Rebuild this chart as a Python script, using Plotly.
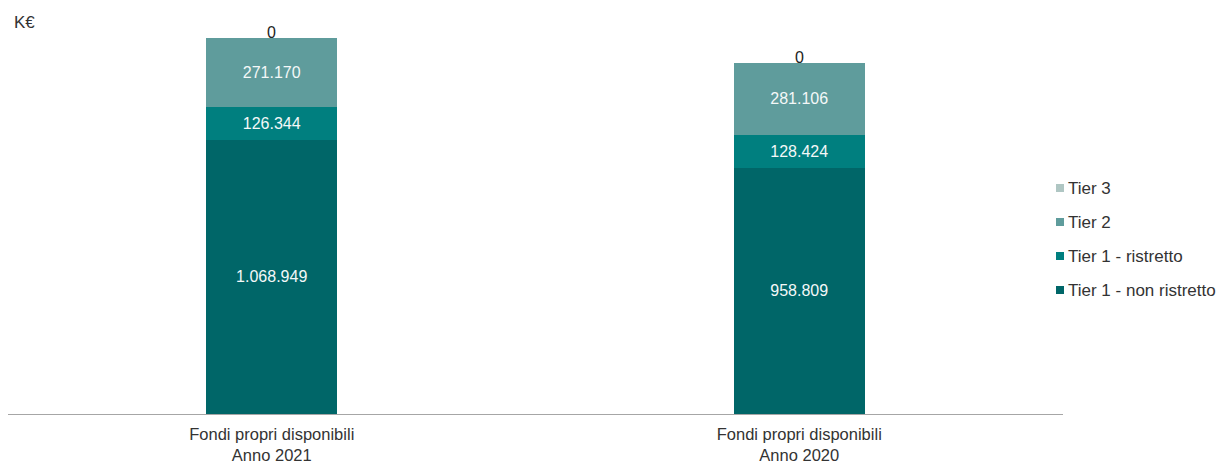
import plotly.graph_objects as go

categories = ["Fondi propri disponibili<br>Anno 2021", "Fondi propri disponibili<br>Anno 2020"]
series_names = ["Tier 1 - non ristretto", "Tier 1 - ristretto", "Tier 2", "Tier 3"]
tier1_non_ristretto = [1068949, 958809]
tier1_ristretto = [126344, 128424]
tier2 = [271170, 281106]
tier3 = [0, 0]
unit_label = "K€"

colors = ["#006668", "#007f7f", "#5f9c9c", "#afc6c3"]
FONT = "Liberation Sans"

def fmt(v):
    return f"{v:,}".replace(",", ".")

W, H = 1223, 458
L, R, T, B = 0, 168, 21, 52
PW, PH = W - L - R, H - T - B

fig = go.Figure()
series = [tier1_non_ristretto, tier1_ristretto, tier2, tier3]
for name, vals, col in zip(series_names, series, colors):
    is_top = name == "Tier 3"
    fig.add_trace(go.Bar(
        x=categories, y=vals, name=name, marker=dict(color=col, line=dict(width=0)),
        text=None if is_top else [fmt(v) for v in vals],
        textposition="none" if is_top else "inside",
        insidetextanchor="middle",
        textfont=dict(color="#f4f8f8", size=16, family=FONT),
        cliponaxis=False,
        hoverinfo="skip",
        showlegend=False,
    ))

annotations = []
# labels for the (zero-height) top segment, sitting on the stack top
totals = [sum(v) for v in zip(*series)]
for cat, tot, v in zip(categories, totals, tier3):
    annotations.append(dict(x=cat, y=tot, xref="x", yref="y", text=fmt(v), showarrow=False,
                            yanchor="middle", yshift=5,
                            font=dict(size=16, color="#222222", family=FONT)))

# legend drawn as squares + labels (top row = Tier 3)
shapes = []
row_px = [180, 214, 248, 282]  # figure-pixel rows for legend items
for i, (name, col) in enumerate(zip(reversed(series_names), reversed(colors))):
    yc = (H - B - row_px[i]) / PH
    x0 = (1048 - L) / PW
    x1 = (1056 - L) / PW
    shapes.append(dict(type="rect", xref="paper", yref="paper",
                       x0=x0, x1=x1, y0=yc - 4 / PH, y1=yc + 4 / PH,
                       fillcolor=col, line=dict(width=0)))
    annotations.append(dict(text=name, xref="paper", yref="paper", x=(1058 - L) / PW, y=yc,
                            xanchor="left", yanchor="middle", showarrow=False,
                            font=dict(size=17, color="#333333", family=FONT)))

annotations.append(dict(text=unit_label, xref="paper", yref="paper", x=4 / PW, y=(H - B - 15) / PH,
                        xanchor="left", yanchor="middle", showarrow=False,
                        font=dict(size=17, color="#333333", family=FONT)))

fig.update_layout(
    barmode="stack",
    bargap=0.752,
    width=W, height=H,
    margin=dict(l=L, r=R, t=T, b=B, autoexpand=False),
    paper_bgcolor="white", plot_bgcolor="white",
    font=dict(family=FONT, size=17, color="#333333"),
    showlegend=False,
    xaxis=dict(showline=True, linecolor="#a6a6a6", linewidth=1, ticks="", showgrid=False,
               ticklabelstandoff=5,
               tickfont=dict(size=16.5, color="#333333", family=FONT)),
    yaxis=dict(range=[0, 1500000], visible=False, showgrid=False, zeroline=False),
    shapes=shapes,
    annotations=annotations,
)
fig.write_html("out.html")
